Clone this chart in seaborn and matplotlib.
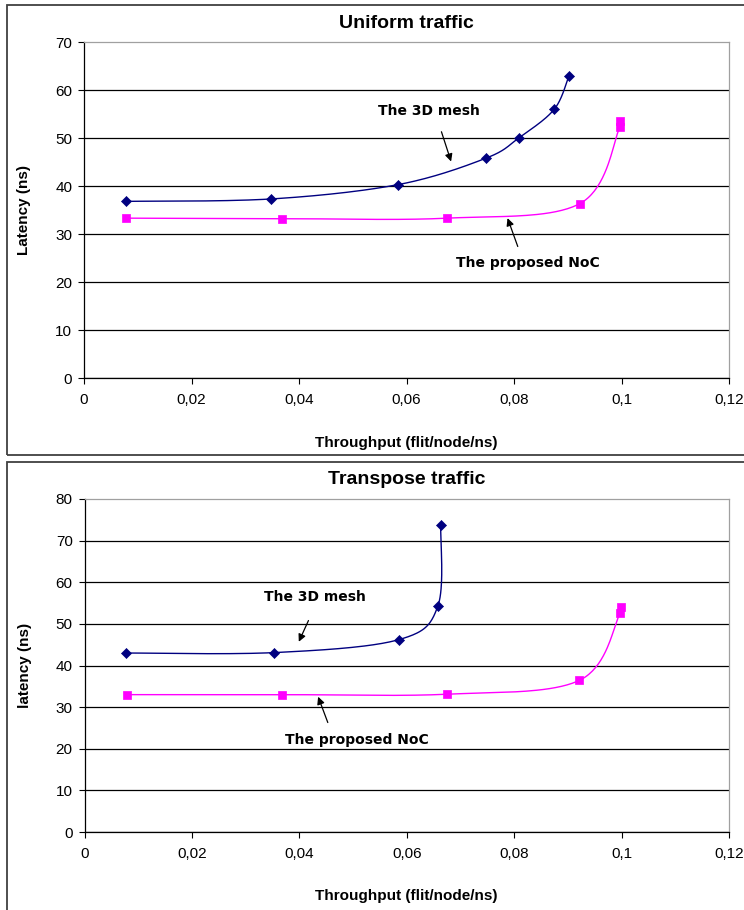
import numpy as np
import matplotlib
matplotlib.use("Agg")
import matplotlib.pyplot as plt
from matplotlib.patches import Rectangle
import seaborn as sns

# ---- data -------------------------------------------------------------
uni_mesh_x = [0.0078, 0.0348, 0.0585, 0.0748, 0.0810, 0.0875, 0.0902]
uni_mesh_y = [36.8, 37.3, 40.3, 45.8, 50.1, 56.0, 62.9]
uni_noc_x = [0.0079, 0.0368, 0.0676, 0.0922, 0.0997, 0.0998]
uni_noc_y = [33.3, 33.2, 33.3, 36.3, 52.3, 53.6]

tr_mesh_x = [0.0077, 0.0353, 0.0585, 0.0658, 0.0663]
tr_mesh_y = [43.0, 43.1, 46.2, 54.3, 73.7]
tr_noc_x = [0.0079, 0.0367, 0.0675, 0.0921, 0.0997, 0.0998]
tr_noc_y = [33.0, 33.0, 33.1, 36.4, 52.5, 54.0]

x_ticks = [0, 0.02, 0.04, 0.06, 0.08, 0.1, 0.12]
x_tick_labels = ["0", "0,02", "0,04", "0,06", "0,08", "0,1", "0,12"]
uni_y_ticks = [0, 10, 20, 30, 40, 50, 60, 70]
tr_y_ticks = [0, 10, 20, 30, 40, 50, 60, 70, 80]

titles = ["Uniform traffic", "Transpose traffic"]
y_labels = ["Latency (ns)", "latency (ns)"]
x_label = "Throughput (flit/node/ns)"
mesh_name = "The 3D mesh"
noc_name = "The proposed NoC"

MESH_COLOR = "#000080"
NOC_COLOR = "#FF00FF"

# ---- helpers ----------------------------------------------------------
def smooth_curve(xs, ys, sx, sy, n=40):
    """Bezier smoothing through the points (tangent = neighbour chord / 6),
    computed in screen-proportional space."""
    P = np.column_stack([np.asarray(xs) * sx, np.asarray(ys) * sy])
    m = len(P)
    out = []
    t = np.linspace(0, 1, n)[:, None]
    for i in range(m - 1):
        p0, p3 = P[i], P[i + 1]
        prev = P[i - 1] if i > 0 else P[i]
        nxt = P[i + 2] if i + 2 < m else P[i + 1]
        c1 = p0 + (p3 - prev) / 6.0
        c2 = p3 - (nxt - p0) / 6.0
        seg = ((1 - t) ** 3) * p0 + 3 * ((1 - t) ** 2) * t * c1 \
            + 3 * (1 - t) * t ** 2 * c2 + t ** 3 * p3
        out.append(seg if i == 0 else seg[1:])
    S = np.vstack(out)
    return S[:, 0] / sx, S[:, 1] / sy


W, H = 744, 910
sns.set_style("white")
plt.rcParams["font.family"] = ["Liberation Sans", "DejaVu Sans"]
plt.rcParams.update({"text.color": "black", "axes.labelcolor": "black",
                     "xtick.color": "black", "ytick.color": "black"})

fig = plt.figure(figsize=(W / 100, H / 100), dpi=100)


def rect_px(l, t, r, b):
    return [l / W, 1 - b / H, (r - l) / W, (b - t) / H]


# outer chart frames
for (l, t, r, b) in [(7, 5, 760, 455), (7, 462, 760, 930)]:
    fig.add_artist(Rectangle((l / W, 1 - b / H), (r - l) / W, (b - t) / H,
                             transform=fig.transFigure, fill=False,
                             edgecolor="#404040", lw=1.3))

panels = [
    dict(rect=(84, 42, 729, 378), ymax=70, yt=uni_y_ticks,
         mx=uni_mesh_x, my=uni_mesh_y, nx=uni_noc_x, ny=uni_noc_y,
         title_y=24,
         mesh_txt=(0.0642, 55.6), mesh_tail=(0.0665, 51.3), mesh_tip=(0.0683, 45.1),
         noc_txt=(0.0826, 24.0), noc_tail=(0.0807, 27.4), noc_tip=(0.0788, 33.3)),
    dict(rect=(84.5, 499, 729, 832), ymax=80, yt=tr_y_ticks,
         mx=tr_mesh_x, my=tr_mesh_y, nx=tr_noc_x, ny=tr_noc_y,
         title_y=480,
         mesh_txt=(0.0429, 56.5), mesh_tail=(0.0417, 50.8), mesh_tip=(0.0399, 45.7),
         noc_txt=(0.0508, 22.1), noc_tail=(0.0453, 26.3), noc_tip=(0.0435, 32.5)),
]

for k, p in enumerate(panels):
    l, t, r, b = p["rect"]
    ax = fig.add_axes(rect_px(l, t, r, b))
    ax.set_xlim(0, 0.12)
    ax.set_ylim(0, p["ymax"])
    sx = (r - l) / 0.12
    sy = (b - t) / p["ymax"]

    # smoothed series lines
    for xs, ys, col, mk in [(p["mx"], p["my"], MESH_COLOR, "D"),
                            (p["nx"], p["ny"], NOC_COLOR, "s")]:
        cx, cy = smooth_curve(xs, ys, sx, sy)
        sns.lineplot(x=cx, y=cy, sort=False, estimator=None, color=col,
                     lw=1.0, ax=ax, zorder=3)
        sns.scatterplot(x=xs, y=ys, marker=mk, color=col, s=26 if mk == "D" else 28,
                        edgecolor=col, linewidth=0.5, ax=ax, zorder=4)

    # axes styling
    ax.set_xticks(x_ticks)
    ax.set_xticklabels(x_tick_labels)
    ax.set_yticks(p["yt"])
    ax.set_yticklabels([str(v) for v in p["yt"]])
    ax.tick_params(axis="both", direction="out", length=4.5, width=0.8,
                   colors="black", labelsize=11, bottom=True, left=True)
    ax.tick_params(axis="x", pad=6)
    ax.tick_params(axis="y", pad=4)
    ax.grid(axis="y", color="black", lw=0.9)
    ax.grid(axis="x", visible=False)
    ax.set_axisbelow(True)
    ax.yaxis.get_major_ticks()[-1].gridline.set_visible(False)
    for s in ["left", "bottom"]:
        ax.spines[s].set_color("black")
        ax.spines[s].set_linewidth(0.9)
    for s in ["top", "right"]:
        ax.spines[s].set_color("#a0a0a0")
        ax.spines[s].set_linewidth(0.9)

    ax.set_xlabel(x_label, fontsize=11, fontweight="bold", va="top")
    ax.xaxis.set_label_coords(0.5, -0.172)
    ax.set_ylabel(y_labels[k], fontsize=11, fontweight="bold")
    ax.yaxis.set_label_coords(-0.082, 0.5)

    fig.text(((l + r) / 2) / W, 1 - p["title_y"] / H, titles[k],
             fontsize=14, fontweight="bold", ha="center", va="center")

    # series annotations
    ann_font = dict(fontsize=10, fontweight="bold", family="DejaVu Sans",
                    ha="center", va="center")
    ax.text(*p["mesh_txt"], mesh_name, **ann_font)
    ax.text(*p["noc_txt"], noc_name, **ann_font)
    for tail, tip in [(p["mesh_tail"], p["mesh_tip"]),
                      (p["noc_tail"], p["noc_tip"])]:
        ax.annotate("", xy=tip, xytext=tail,
                    arrowprops=dict(arrowstyle="-|>", color="black", lw=0.9,
                                    mutation_scale=11, shrinkA=0, shrinkB=0))

fig.savefig("out.png", dpi=100)
